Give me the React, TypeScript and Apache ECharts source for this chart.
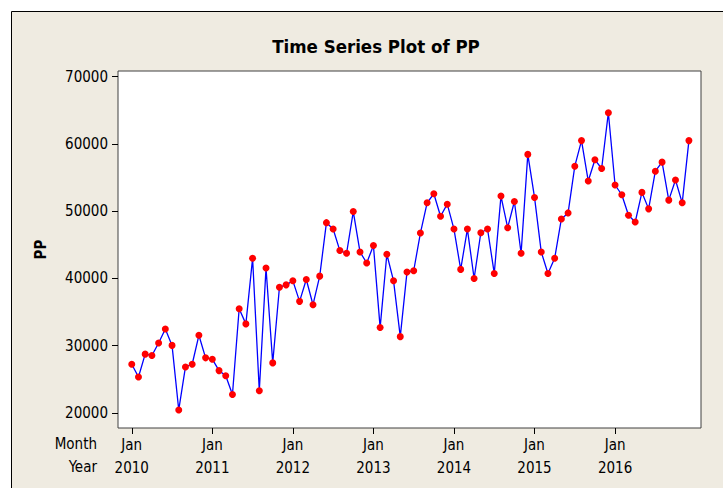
import React, { useEffect, useRef } from "react";
import * as echarts from "echarts";

const months = ["Jan", "Jan", "Jan", "Jan", "Jan", "Jan", "Jan"];
const years = ["2010", "2011", "2012", "2013", "2014", "2015", "2016"];
const yTicks = [20000, 30000, 40000, 50000, 60000, 70000];
const pp = [
  27250, 25350, 28750, 28550, 30400, 32500, 30050, 20450, 26850, 27250, 31550, 28200,
  28000, 26300, 25550, 22750, 35500, 33250, 43000, 23300, 41550, 27450, 38700, 39050,
  39650, 36600, 39850, 36100, 40350, 48300, 47350, 44150, 43750, 49950, 43950, 42300,
  44900, 32700, 43600, 39650, 31350, 40950, 41150, 46750, 51250, 52600, 49250, 51050,
  47350, 41350, 47350, 40000, 46800, 47350, 40750, 52250, 47550, 51450, 43750, 58450,
  52050, 43950, 40750, 43000, 48850, 49750, 56700, 60500, 54500, 57650, 56350, 64650,
  53900, 52450, 49400, 48400, 52800, 50350, 55950, 57300, 51650, 54650, 51250, 60500,
];

const FONT = "'DejaVu Sans Condensed', 'DejaVu Sans', sans-serif";

export default function App() {
  const ref = useRef<HTMLDivElement>(null);
  useEffect(() => {
    const chart = echarts.init(ref.current!, null, { renderer: "svg" });
    const data = pp.map((v, i) => [i, v]);
    const xTickVals = years.map((_, i) => i * 12);
    chart.setOption({
      animation: false,
      backgroundColor: "transparent",
      title: {
        text: "Time Series Plot of PP",
        left: 371,
        top: 32,
        textAlign: "center",
        textStyle: { fontFamily: FONT, fontSize: 18.5, fontWeight: "bold", color: "#000" },
      },
      graphic: [
        {
          type: "rect",
          z: -10,
          shape: { x: 11.5, y: 11.5, width: 800, height: 600 },
          style: { fill: "#EFEBE1", stroke: "#000", lineWidth: 1 },
        },
        {
          type: "text",
          x: 97,
          y: 444,
          style: { text: "Month", align: "right", verticalAlign: "middle", font: `15px ${FONT}`, fill: "#000" },
        },
        {
          type: "text",
          x: 97,
          y: 467,
          style: { text: "Year", align: "right", verticalAlign: "middle", font: `15px ${FONT}`, fill: "#000" },
        },
      ],
      grid: {
        left: 118,
        top: 71,
        right: 22,
        bottom: 60,
        show: true,
        backgroundColor: "#fff",
        borderColor: "#404040",
        borderWidth: 1,
      },
      xAxis: {
        type: "value",
        min: -2.05,
        max: 84.8,
        axisLine: { show: false, onZero: false },
        splitLine: { show: false },
        axisTick: {
          show: true,
          length: 6,
          customValues: xTickVals,
          lineStyle: { color: "#000", width: 1 },
        },
        axisLabel: {
          customValues: xTickVals,
          margin: 5,
          fontFamily: FONT,
          fontSize: 15,
          color: "#000",
          lineHeight: 23,
          formatter: (v: number) => {
            const k = Math.round(v / 12);
            return `${months[k]}\n${years[k]}`;
          },
        },
      },
      yAxis: {
        type: "value",
        min: 17768,
        max: 70850,
        name: "PP",
        nameLocation: "middle",
        nameRotate: 90,
        nameGap: 70,
        nameTextStyle: { fontFamily: FONT, fontSize: 15, fontWeight: "bold", color: "#000" },
        axisLine: { show: false, onZero: false },
        splitLine: { show: false },
        axisTick: {
          show: true,
          inside: false,
          length: 6,
          customValues: yTicks,
          lineStyle: { color: "#000", width: 1 },
        },
        axisLabel: {
          customValues: yTicks,
          margin: 10,
          fontFamily: FONT,
          fontSize: 15,
          color: "#000",
          formatter: (v: number) => String(v),
        },
      },
      series: [
        {
          type: "line",
          data,
          symbol: "circle",
          symbolSize: 7,
          lineStyle: { color: "#0000FF", width: 1.3 },
          itemStyle: { color: "#FF0000" },
        },
      ],
    });
    return () => chart.dispose();
  }, []);
  return (
    <div
      ref={ref}
      style={{ position: "fixed", left: 0, top: 0, width: 723, height: 488, background: "#fff" }}
    />
  );
}
